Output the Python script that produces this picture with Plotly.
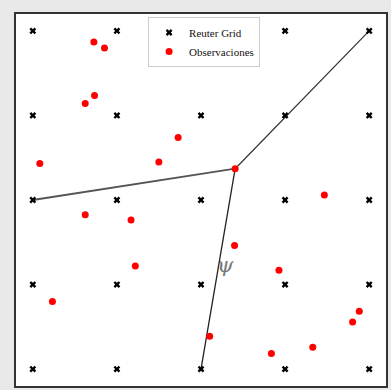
import plotly.graph_objects as go

# Reuter grid (5x5)
grid_vals = [0, 1, 2, 3, 4]
grid_x = [gx for gy in grid_vals for gx in grid_vals]
grid_y = [gy for gy in grid_vals for gx in grid_vals]

# Observations
obs_x = [0.726, 0.852, 0.734, 0.623, 0.083, 1.499, 1.728, 0.623, 1.168, 2.406,
         3.467, 2.399, 1.219, 0.233, 2.927, 3.882, 3.803, 2.103, 3.329, 2.837]
obs_y = [3.868, 3.797, 3.236, 3.142, 2.433, 2.449, 2.740, 1.826, 1.763, 2.370,
         2.059, 1.463, 1.220, 0.798, 1.168, 0.683, 0.558, 0.388, 0.258, 0.183]

# Lines from a central vertex to grid nodes
vertex = (2.406, 2.370)
edge_targets_x = [0, 4, 2]
edge_targets_y = [2, 4, 0]
edge_colors = ["#555555", "#333333", "#222222"]
edge_widths = [1.8, 1.2, 1.3]

psi_label = "<i>ψ</i>"
psi_pos = (2.29, 1.235)

fig = go.Figure()
for tx, ty, c, w in zip(edge_targets_x, edge_targets_y, edge_colors, edge_widths):
    fig.add_trace(go.Scatter(x=[vertex[0], tx], y=[vertex[1], ty], mode="lines",
                             line=dict(color=c, width=w), showlegend=False,
                             hoverinfo="skip"))

fig.add_trace(go.Scatter(x=grid_x, y=grid_y, mode="markers", name="Reuter Grid",
                         marker=dict(symbol="x", size=6, color="black",
                                     line=dict(width=0))))
fig.add_trace(go.Scatter(x=obs_x, y=obs_y, mode="markers", name="Observaciones",
                         marker=dict(symbol="circle", size=7, color="#ff0000",
                                     line=dict(width=0))))

fig.add_annotation(x=psi_pos[0], y=psi_pos[1], text=psi_label, showarrow=False,
                   font=dict(family="DejaVu Serif", size=21, color="#777777"))

axis_common = dict(range=[-0.2, 4.2], showgrid=False, zeroline=False,
                   showticklabels=False, ticks="", showline=True, mirror=True,
                   linecolor="#333333", linewidth=2)
fig.update_layout(
    width=391, height=390,
    margin=dict(l=16, r=5, t=14, b=4),
    paper_bgcolor="#e9e9e9",
    plot_bgcolor="white",
    xaxis=axis_common,
    yaxis=axis_common,
    legend=dict(x=0.357, y=0.992, xanchor="left", yanchor="top",
                bgcolor="white", bordercolor="#cccccc", borderwidth=1,
                font=dict(family="Liberation Serif", size=11, color="#111111"),
                itemwidth=30, tracegroupgap=0),
    showlegend=True,
)

fig.write_html("out.html", config={"displayModeBar": False},
               post_script="document.body.style.margin='0';document.body.style.background='#e9e9e9';")
